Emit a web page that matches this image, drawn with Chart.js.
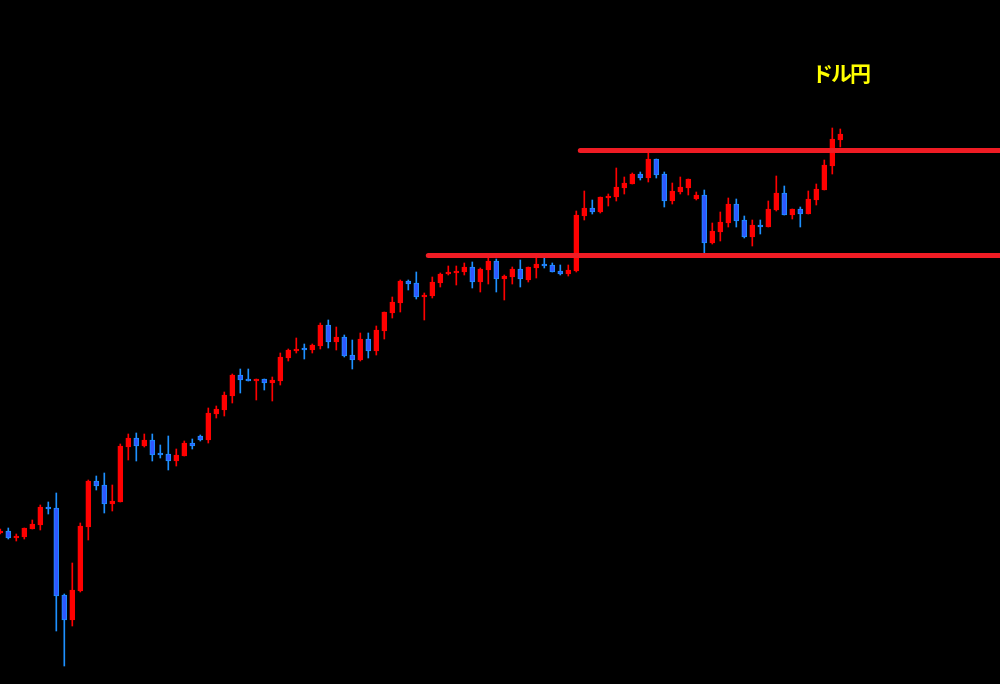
<!DOCTYPE html>
<html>
<head>
<meta charset="utf-8">
<script src="https://cdn.jsdelivr.net/npm/chart.js@4"></script>
<style>
  html, body { margin: 0; padding: 0; background: #000; }
  #wrap { position: relative; width: 1000px; height: 684px; }
  #title {
    position: absolute; left: 812px; top: 57px;
    font-family: "Noto Sans CJK JP", sans-serif; font-weight: bold;
    font-size: 21px; letter-spacing: -2px; color: #ffff00;
  }
</style>
</head>
<body>
<div id="wrap">
  <canvas id="chart" width="1000" height="684"></canvas>
  <div id="title">ドル円</div>
</div>
<script>
// daily candles, oldest first
const opens = [
  135.35, 135.45, 135.10, 135.15, 135.55, 135.75, 136.65, 136.60, 132.25, 131.00,
  132.45, 135.65, 137.95, 137.75, 136.80, 136.90, 139.65, 140.10, 139.70, 140.00,
  139.35, 139.30, 138.95, 139.20, 139.85, 140.20, 140.00, 141.30, 141.50, 142.20,
  143.25, 143.05, 142.95, 143.05, 142.85, 142.95, 144.10, 144.45, 144.60, 144.50,
  144.70, 145.75, 144.90, 145.15, 144.25, 144.00, 145.05, 144.45, 145.45, 146.35,
  146.85, 147.95, 147.85, 147.15, 147.20, 147.85, 148.30, 148.35, 148.40, 148.65,
  147.90, 148.50, 148.95, 148.05, 148.15, 148.55, 148.00, 148.60, 148.80, 148.75,
  148.45, 148.30, 148.45, 151.20, 151.60, 151.40, 152.10, 152.15, 152.60, 152.80,
  153.30, 153.10, 154.05, 153.30, 151.95, 152.40, 152.60, 152.05, 152.25, 149.85,
  150.40, 150.85, 151.80, 151.00, 150.15, 150.75, 150.65, 151.50, 152.35, 151.25,
  151.55, 151.30, 152.00, 152.50, 153.70, 155.00
];
const highs = [
  135.55, 135.60, 135.30, 135.60, 136.00, 136.75, 136.90, 137.35, 132.30, 133.85,
  135.85, 138.00, 138.20, 138.35, 137.75, 139.80, 140.30, 140.35, 140.30, 140.30,
  139.75, 140.20, 139.55, 139.95, 140.05, 140.25, 141.60, 141.70, 142.40, 143.30,
  143.55, 143.55, 143.05, 143.05, 143.15, 144.35, 144.55, 145.10, 144.80, 144.80,
  145.85, 146.00, 145.65, 145.25, 145.00, 145.35, 145.35, 145.70, 146.40, 147.15,
  148.00, 148.00, 148.40, 147.35, 148.15, 148.35, 148.70, 148.70, 148.85, 148.90,
  148.60, 149.10, 149.05, 148.25, 148.65, 149.00, 148.65, 149.10, 149.10, 148.85,
  148.75, 148.75, 151.45, 152.45, 152.00, 152.15, 152.30, 153.60, 153.15, 153.35,
  153.40, 154.35, 154.05, 153.40, 152.85, 153.15, 153.05, 152.40, 152.50, 150.85,
  151.40, 152.10, 152.05, 151.20, 151.00, 151.00, 151.95, 153.20, 152.70, 151.55,
  151.65, 152.45, 152.80, 154.00, 155.60, 155.55
];
const lows = [
  135.30, 135.05, 134.95, 135.05, 135.55, 135.50, 136.30, 130.45, 128.70, 130.70,
  132.40, 135.00, 137.50, 136.35, 136.45, 136.90, 139.00, 138.95, 139.65, 138.95,
  139.10, 138.50, 138.70, 139.20, 139.55, 139.95, 139.85, 141.10, 141.20, 141.85,
  142.35, 142.95, 142.00, 142.50, 141.95, 142.75, 143.95, 144.35, 144.05, 144.35,
  144.55, 144.60, 144.50, 144.15, 143.55, 143.95, 144.10, 144.25, 145.05, 146.10,
  146.40, 147.50, 147.05, 146.00, 147.10, 147.65, 148.25, 147.75, 148.25, 147.60,
  147.40, 147.80, 147.40, 147.00, 147.80, 147.65, 147.90, 148.10, 148.60, 148.40,
  148.25, 148.20, 148.40, 151.00, 151.30, 151.35, 151.70, 151.95, 152.30, 152.80,
  153.00, 152.90, 153.10, 151.65, 151.80, 152.30, 152.25, 152.00, 149.35, 149.80,
  149.95, 150.65, 150.65, 150.10, 149.70, 150.30, 150.65, 151.45, 151.25, 151.05,
  150.65, 151.30, 151.75, 152.50, 153.30, 154.65
];
const closes = [
  135.45, 135.10, 135.20, 135.60, 135.80, 136.65, 136.55, 132.20, 131.00, 132.50,
  135.70, 137.95, 137.70, 136.80, 136.95, 139.70, 140.10, 139.70, 140.00, 139.25,
  139.25, 138.95, 139.25, 139.85, 139.70, 140.00, 141.35, 141.55, 142.25, 143.25,
  143.00, 142.95, 143.05, 142.85, 143.00, 144.15, 144.50, 144.55, 144.50, 144.75,
  145.75, 144.90, 145.15, 144.20, 144.00, 145.05, 144.45, 145.50, 146.40, 146.90,
  147.95, 147.80, 147.15, 147.25, 147.90, 148.30, 148.40, 148.45, 148.65, 147.90,
  148.55, 148.95, 148.05, 148.20, 148.55, 148.05, 148.65, 148.80, 148.70, 148.40,
  148.30, 148.50, 151.25, 151.60, 151.40, 152.15, 152.20, 152.65, 152.85, 153.30,
  153.10, 154.05, 153.25, 151.95, 152.45, 152.65, 153.05, 152.25, 149.85, 150.45,
  150.90, 151.80, 150.95, 150.15, 150.75, 150.65, 151.55, 152.35, 151.25, 151.55,
  151.30, 152.05, 152.55, 153.75, 155.05, 155.30
];

// horizontal levels: [price, first candle index]
const levelPrices = [149.23, 154.47];
const levelStarts = [53.5, 72.5];

const upColor = '#ff0000';
const downFill = '#2f58ff';
const downEdge = '#1e90ff';
const lineColor = '#ef1c24';

const isUp = i => closes[i] >= opens[i];

const wicks = opens.map((o, i) => ({x: i, y: [lows[i], highs[i]]}));
const bodies = opens.map((o, i) => ({x: i, y: [o, closes[i]]}));

const levelSets = levelPrices.map((p, j) => ({
  type: 'line',
  data: [{x: levelStarts[j], y: p}, {x: 140, y: p}],
  borderColor: lineColor,
  borderWidth: 5,
  borderCapStyle: 'round',
  pointRadius: 0,
  order: 0
}));

new Chart(document.getElementById('chart'), {
  type: 'bar',
  data: {
    datasets: [
      {
        data: wicks,
        backgroundColor: wicks.map((w, i) => isUp(i) ? upColor : downEdge),
        barThickness: 1,
        grouped: false,
        order: 3
      },
      {
        data: bodies,
        backgroundColor: bodies.map((b, i) => isUp(i) ? upColor : downFill),
        borderColor: bodies.map((b, i) => isUp(i) ? upColor : downEdge),
        borderWidth: 1,
        borderSkipped: false,
        barThickness: 5,
        minBarLength: 2,
        grouped: false,
        order: 2
      },
      ...levelSets
    ]
  },
  options: {
    responsive: false,
    devicePixelRatio: 1,
    animation: false,
    layout: {padding: 0},
    plugins: {legend: {display: false}, tooltip: {enabled: false}},
    scales: {
      x: {type: 'linear', min: -0.0375, max: 124.9625, offset: false, display: false},
      y: {min: 127.8, max: 162, display: false}
    }
  }
});
</script>
</body>
</html>
